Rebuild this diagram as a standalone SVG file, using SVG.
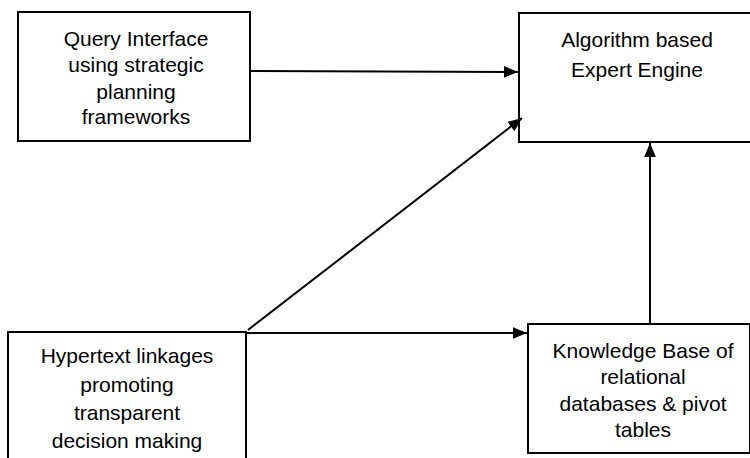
<svg xmlns="http://www.w3.org/2000/svg" width="750" height="458" viewBox="0 0 750 458">
<style>
.box{fill:#fff;stroke:#000;stroke-width:2}
.t{font-family:"Liberation Sans","DejaVu Sans",sans-serif;font-size:21px;fill:#000;text-anchor:middle}
.c{stroke:#000;stroke-width:2;fill:none}
</style>
<defs>
<marker id="a" viewBox="0 0 12 10" refX="12" refY="5" markerWidth="14" markerHeight="12" markerUnits="userSpaceOnUse" orient="auto">
<path d="M0,0 L12,5 L0,10 z" fill="#000"/>
</marker>
</defs>
<rect width="750" height="458" fill="#fff"/>
<g id="query">
<rect class="box" x="18" y="12" width="232" height="129"/>
<text class="t" x="136" y="46">Query Interface</text>
<text class="t" x="136" y="72">using strategic</text>
<text class="t" x="136" y="99">planning</text>
<text class="t" x="136" y="124">frameworks</text>
</g>
<g id="engine">
<rect class="box" x="519" y="13" width="236" height="129"/>
<text class="t" x="637" y="47">Algorithm based</text>
<text class="t" x="637" y="77">Expert Engine</text>
</g>
<g id="hypertext">
<rect class="box" x="8" y="332" width="238" height="135"/>
<text class="t" x="127" y="363">Hypertext linkages</text>
<text class="t" x="127" y="392">promoting</text>
<text class="t" x="127" y="420">transparent</text>
<text class="t" x="127" y="448">decision making</text>
</g>
<g id="knowledge">
<rect class="box" x="528" y="324" width="222" height="129"/>
<text class="t" x="643" y="358">Knowledge Base of</text>
<text class="t" x="643" y="384">relational</text>
<text class="t" x="643" y="411">databases &amp; pivot</text>
<text class="t" x="643" y="437">tables</text>
</g>
<g id="connectors">
<line class="c" x1="250" y1="71" x2="518" y2="72" marker-end="url(#a)"/>
<line class="c" x1="248" y1="330" x2="522" y2="118" marker-end="url(#a)"/>
<line class="c" x1="246" y1="333" x2="527" y2="333" marker-end="url(#a)"/>
<line class="c" x1="650" y1="324" x2="650" y2="143" marker-end="url(#a)"/>
</g>
</svg>
